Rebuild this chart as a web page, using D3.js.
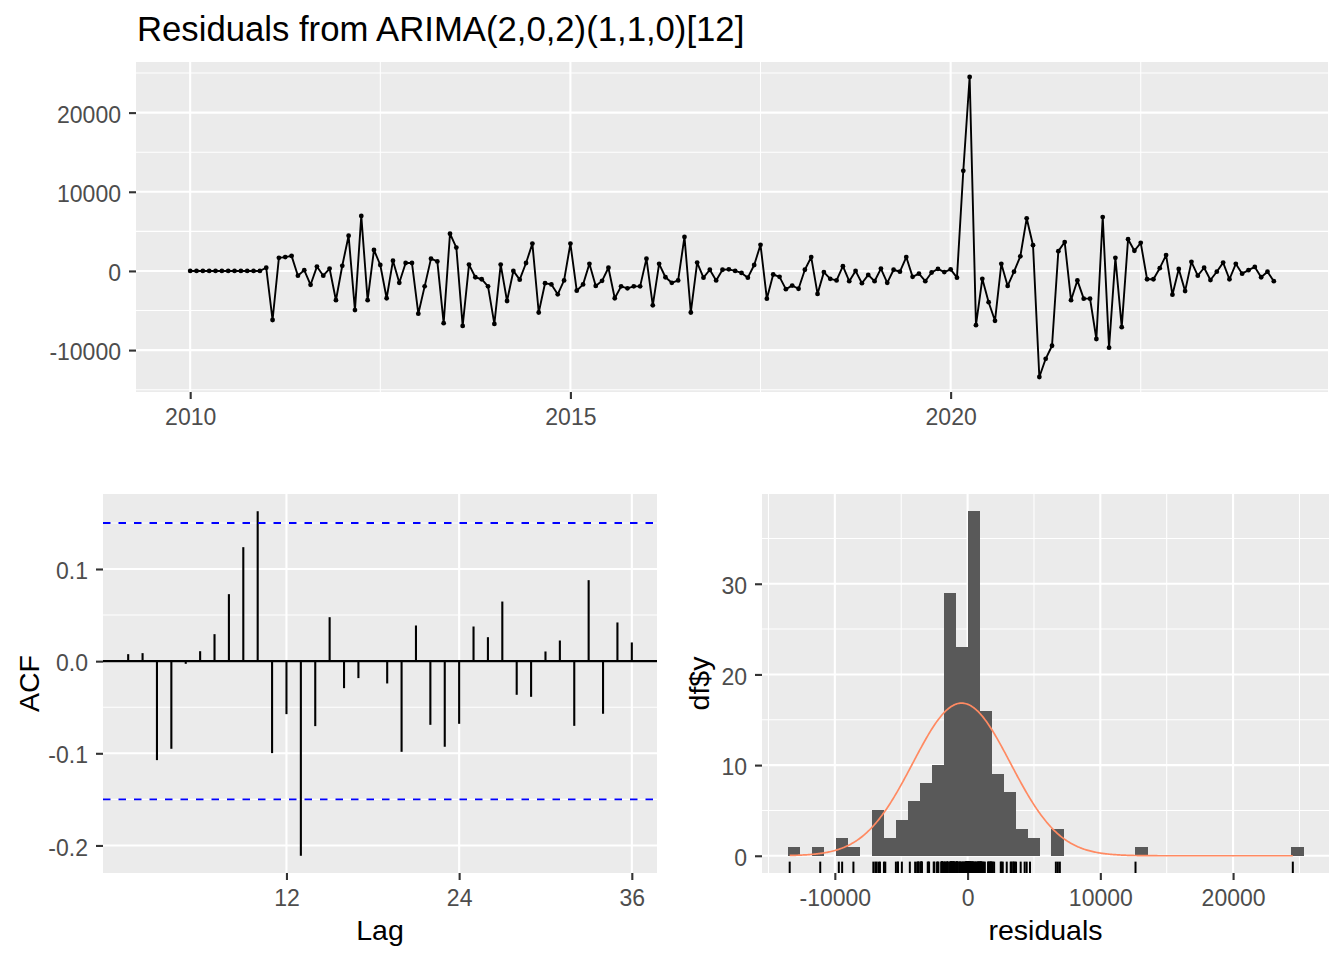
<!DOCTYPE html>
<html>
<head>
<meta charset="utf-8">
<script src="https://cdn.jsdelivr.net/npm/d3@7/dist/d3.min.js"></script>
<style>
  body { margin: 0; background: #ffffff; }
  svg { display: block; font-family: "Liberation Sans", Arial, sans-serif; }
</style>
</head>
<body>
<svg width="1344" height="960"></svg>
<script>
/*
 * Data
 */
const START_YEAR = 2010;
const FREQUENCY = 12;

// monthly residuals, Jan 2010 .. Apr 2024
const residuals = [
  0, 0, 0, 0, 0, 0, 0, 0, 0, 0, 0, 0,
  400, -6200, 1650, 1750, 1900, -600, 100, -1750, 550, -600, 300, -3700,
  650, 4450, -4950, 6950, -3700, 2650, 750, -3450, 1300, -1500, 1000, 1000,
  -5400, -1950, 1550, 1200, -6600, 4700, 2950, -6950, 800, -800, -1050, -1950,
  -6700, 800, -3800, 0, -1100, 1000, 3450, -5250, -1550, -1700, -2950, -1200,
  3450, -2500, -1700, 900, -1900, -1250, 400, -3450, -1950, -2200, -1950, -1950,
  1550, -4350, 900, -800, -1500, -1200, 4300, -5250, 1050, -850, 150, -1200,
  150, 200, 0, -250, -850, 750, 3300, -3500, -450, -750, -2300, -1850,
  -2250, 150, 1750, -2900, -150, -1000, -1200, 600, -1300, 0, -1550, -500,
  -1300, 300, -1500, 150, -100, 1750, -750, -350, -1300, -200, 250, -150,
  200, -850, 12650, 24500, -6850, -1000, -3950, -6300, 900, -1900, -100, 1850,
  6650, 3250, -13400, -11100, -9450, 2500, 3650, -3700, -1200, -3500, -3500, -8600,
  6800, -9700, 1650, -7100, 4000, 2550, 3550, -1050, -1050, 350, 2000, -3000,
  250, -2550, 1150, -600, 400, -1150, -100, 1050, -1050, 900, -350, 100,
  500, -800, -100, -1300
];
const yearTicks = [2010, 2015, 2020];
const yearMinor = [2012.5, 2017.5, 2022.5];
const residTicks = [-10000, 0, 10000, 20000];
const residMinor = [-15000, -5000, 5000, 15000, 25000];

// ACF at lags 1..36
const acfLags = d3.range(1, 37);
const acfValues = [
  0.0076, 0.0087, -0.1074, -0.0951, -0.0029, 0.0108, 0.0293, 0.0727, 0.1237, 0.1627,
  -0.0998, -0.0575, -0.2112, -0.0705, 0.0477, -0.0293, -0.0184, 0.0010, -0.0242, -0.0984,
  0.0387, -0.0691, -0.0929, -0.0680, 0.0376, 0.0260, 0.0647, -0.0365, -0.0387, 0.0105,
  0.0224, -0.0702, 0.0879, -0.0571, 0.0420, 0.0203
];
const ACF_LIMIT = 0.1499;
const lagTicks = [12, 24, 36];
const acfTicks = [-0.2, -0.1, 0.0, 0.1];
const acfMinor = [-0.15, -0.05, 0.05, 0.15];

// histogram: bins of BIN_WIDTH starting at BIN_FIRST * BIN_WIDTH
const BIN_WIDTH = 903;
const BIN_FIRST = -15;
const histCounts = [
  1, 0, 1, 0, 2, 1, 0, 5, 2, 4, 6, 8, 10, 29, 23, 38, 16, 9, 7, 3, 2, 0, 3,
  0, 0, 0, 0, 0, 0, 1, 0, 0, 0, 0, 0, 0, 0, 0, 0, 0, 0, 0, 1
];
const NORMAL_MEAN = -450;
const NORMAL_SD = 3680;
const histXTicks = [-10000, 0, 10000, 20000];
const histXMinor = [-15000, -5000, 5000, 15000, 25000];
const histYTicks = [0, 10, 20, 30];
const histYMinor = [5, 15, 25, 35];

/*
 * Layout
 */
const TS = { left: 136, right: 1328, top: 62, bottom: 392 };
const ACF = { left: 103, right: 657, top: 494, bottom: 873 };
const HIST = { left: 762, right: 1329, top: 494, bottom: 873 };
const TICK_FONT = "23px";
const TITLE_FONT = "28.5px";

const svg = d3.select("svg");

function expand(lo, hi) {
  const pad = (hi - lo) * 0.05;
  return [lo - pad, hi + pad];
}

const fmtPlain = d => String(d);
const fmtOne = d => d.toFixed(1);

/*
 * Grey panel with white grid and axes
 */
function drawPanel(box, x, y, grid) {
  const g = svg.append("g");
  g.append("rect")
    .attr("x", box.left)
    .attr("y", box.top)
    .attr("width", box.right - box.left)
    .attr("height", box.bottom - box.top)
    .attr("fill", "#EBEBEB");

  const inY = d => y(d) >= box.top && y(d) <= box.bottom;
  const inX = d => x(d) >= box.left && x(d) <= box.right;

  g.selectAll(null).data(grid.yMinor.filter(inY)).join("line")
    .attr("x1", box.left).attr("x2", box.right)
    .attr("y1", d => y(d)).attr("y2", d => y(d))
    .attr("stroke", "#fff").attr("stroke-width", 1.05);
  g.selectAll(null).data(grid.xMinor.filter(inX)).join("line")
    .attr("y1", box.top).attr("y2", box.bottom)
    .attr("x1", d => x(d)).attr("x2", d => x(d))
    .attr("stroke", "#fff").attr("stroke-width", 1.05);
  g.selectAll(null).data(grid.yMajor).join("line")
    .attr("x1", box.left).attr("x2", box.right)
    .attr("y1", d => y(d)).attr("y2", d => y(d))
    .attr("stroke", "#fff").attr("stroke-width", 2.1);
  g.selectAll(null).data(grid.xMajor).join("line")
    .attr("y1", box.top).attr("y2", box.bottom)
    .attr("x1", d => x(d)).attr("x2", d => x(d))
    .attr("stroke", "#fff").attr("stroke-width", 2.1);

  const xAxis = svg.append("g")
    .attr("transform", `translate(0,${box.bottom})`)
    .call(d3.axisBottom(x).tickValues(grid.xMajor).tickSize(7).tickPadding(10).tickFormat(grid.fmtX));
  const yAxis = svg.append("g")
    .attr("transform", `translate(${box.left},0)`)
    .call(d3.axisLeft(y).tickValues(grid.yMajor).tickSize(7).tickPadding(8).tickFormat(grid.fmtY));

  [xAxis, yAxis].forEach(a => {
    a.attr("font-family", null).attr("font-size", null);
    a.select(".domain").remove();
    a.selectAll(".tick line").attr("stroke", "#333333").attr("stroke-width", 2.1);
    a.selectAll(".tick text").attr("fill", "#4D4D4D").attr("font-size", TICK_FONT);
  });
  yAxis.selectAll(".tick text").attr("dy", "0.42em");
}

/*
 * Top: residual time series
 */
function drawSeries() {
  const times = residuals.map((_, i) => START_YEAR + i / FREQUENCY);
  const x = d3.scaleLinear().domain(expand(d3.min(times), d3.max(times))).range([TS.left, TS.right]);
  const y = d3.scaleLinear().domain(expand(d3.min(residuals), d3.max(residuals))).range([TS.bottom, TS.top]);

  drawPanel(TS, x, y, {
    xMajor: yearTicks, xMinor: yearMinor,
    yMajor: residTicks, yMinor: residMinor,
    fmtX: fmtPlain, fmtY: fmtPlain
  });

  const pts = residuals.map((v, i) => [times[i], v]);
  svg.append("path")
    .datum(pts)
    .attr("fill", "none")
    .attr("stroke", "#000")
    .attr("stroke-width", 1.9)
    .attr("stroke-linejoin", "round")
    .attr("d", d3.line().x(d => x(d[0])).y(d => y(d[1])));

  svg.append("g").selectAll("circle").data(pts).join("circle")
    .attr("cx", d => x(d[0]))
    .attr("cy", d => y(d[1]))
    .attr("r", 2.4)
    .attr("fill", "#000");

  svg.append("text")
    .attr("x", TS.left + 1)
    .attr("y", 41)
    .attr("font-size", "34.7px")
    .attr("fill", "#000")
    .text("Residuals from ARIMA(2,0,2)(1,1,0)[12]");
}

/*
 * Bottom left: ACF
 */
function drawAcf() {
  const x = d3.scaleLinear().domain(expand(1, 36)).range([ACF.left, ACF.right]);
  const lo = Math.min(d3.min(acfValues), -ACF_LIMIT);
  const hi = Math.max(d3.max(acfValues), ACF_LIMIT);
  const y = d3.scaleLinear().domain(expand(lo, hi)).range([ACF.bottom, ACF.top]);

  drawPanel(ACF, x, y, {
    xMajor: lagTicks, xMinor: [],
    yMajor: acfTicks, yMinor: acfMinor,
    fmtX: fmtPlain, fmtY: fmtOne
  });

  svg.append("line")
    .attr("x1", ACF.left).attr("x2", ACF.right)
    .attr("y1", y(0)).attr("y2", y(0))
    .attr("stroke", "#000").attr("stroke-width", 2.1);

  svg.append("g").selectAll("line").data(acfValues).join("line")
    .attr("x1", (d, i) => x(acfLags[i]))
    .attr("x2", (d, i) => x(acfLags[i]))
    .attr("y1", y(0))
    .attr("y2", d => y(d))
    .attr("stroke", "#000")
    .attr("stroke-width", 2.1);

  svg.append("g").selectAll("line").data([ACF_LIMIT, -ACF_LIMIT]).join("line")
    .attr("x1", ACF.left).attr("x2", ACF.right)
    .attr("y1", d => y(d)).attr("y2", d => y(d))
    .attr("stroke", "#0000FF")
    .attr("stroke-width", 1.8)
    .attr("stroke-dasharray", "7.5,8");

  svg.append("text")
    .attr("x", (ACF.left + ACF.right) / 2)
    .attr("y", 940)
    .attr("text-anchor", "middle")
    .attr("font-size", TITLE_FONT)
    .text("Lag");

  svg.append("text")
    .attr("transform", `translate(39,${(ACF.top + ACF.bottom) / 2}) rotate(-90)`)
    .attr("text-anchor", "middle")
    .attr("font-size", TITLE_FONT)
    .text("ACF");
}

/*
 * Bottom right: histogram with normal curve and rug
 */
function drawHistogram() {
  const bins = histCounts.map((c, i) => ({
    x0: (BIN_FIRST + i) * BIN_WIDTH,
    x1: (BIN_FIRST + i + 1) * BIN_WIDTH,
    count: c
  }));
  const x = d3.scaleLinear()
    .domain(expand(bins[0].x0, bins[bins.length - 1].x1))
    .range([HIST.left, HIST.right]);
  const y = d3.scaleLinear()
    .domain(expand(0, d3.max(histCounts)))
    .range([HIST.bottom, HIST.top]);

  drawPanel(HIST, x, y, {
    xMajor: histXTicks, xMinor: histXMinor,
    yMajor: histYTicks, yMinor: histYMinor,
    fmtX: fmtPlain, fmtY: fmtPlain
  });

  // bars drawn edge to edge; crisp edges avoid hairline seams
  svg.append("g")
    .attr("shape-rendering", "crispEdges")
    .selectAll("rect").data(bins.filter(b => b.count > 0)).join("rect")
    .attr("x", d => x(d.x0))
    .attr("width", d => x(d.x1) - x(d.x0) + 0.5)
    .attr("y", d => y(d.count))
    .attr("height", d => y(0) - y(d.count))
    .attr("fill", "#595959");

  // normal density scaled to counts, over the residual range
  const rMin = Math.min(d3.min(residuals), NORMAL_MEAN - 3 * NORMAL_SD);
  const rMax = Math.max(d3.max(residuals), NORMAL_MEAN + 3 * NORMAL_SD);
  const scale = residuals.length * BIN_WIDTH / (NORMAL_SD * Math.sqrt(2 * Math.PI));
  const grid = d3.range(512).map(i => rMin + (rMax - rMin) * i / 511);
  svg.append("path")
    .datum(grid)
    .attr("fill", "none")
    .attr("stroke", "#ff8a62")
    .attr("stroke-width", 1.7)
    .attr("d", d3.line()
      .x(d => x(d))
      .y(d => y(scale * Math.exp(-0.5 * ((d - NORMAL_MEAN) / NORMAL_SD) ** 2))));

  const rugLen = (HIST.bottom - HIST.top) * 0.03;
  svg.append("g").selectAll("line").data(residuals).join("line")
    .attr("x1", d => x(d)).attr("x2", d => x(d))
    .attr("y1", HIST.bottom).attr("y2", HIST.bottom - rugLen)
    .attr("stroke", "#000")
    .attr("stroke-width", 2);

  svg.append("text")
    .attr("x", (HIST.left + HIST.right) / 2)
    .attr("y", 940)
    .attr("text-anchor", "middle")
    .attr("font-size", TITLE_FONT)
    .text("residuals");

  svg.append("text")
    .attr("transform", `translate(709,${(HIST.top + HIST.bottom) / 2}) rotate(-90)`)
    .attr("text-anchor", "middle")
    .attr("font-size", TITLE_FONT)
    .text("df$y");
}

drawSeries();
drawAcf();
drawHistogram();
</script>
</body>
</html>
